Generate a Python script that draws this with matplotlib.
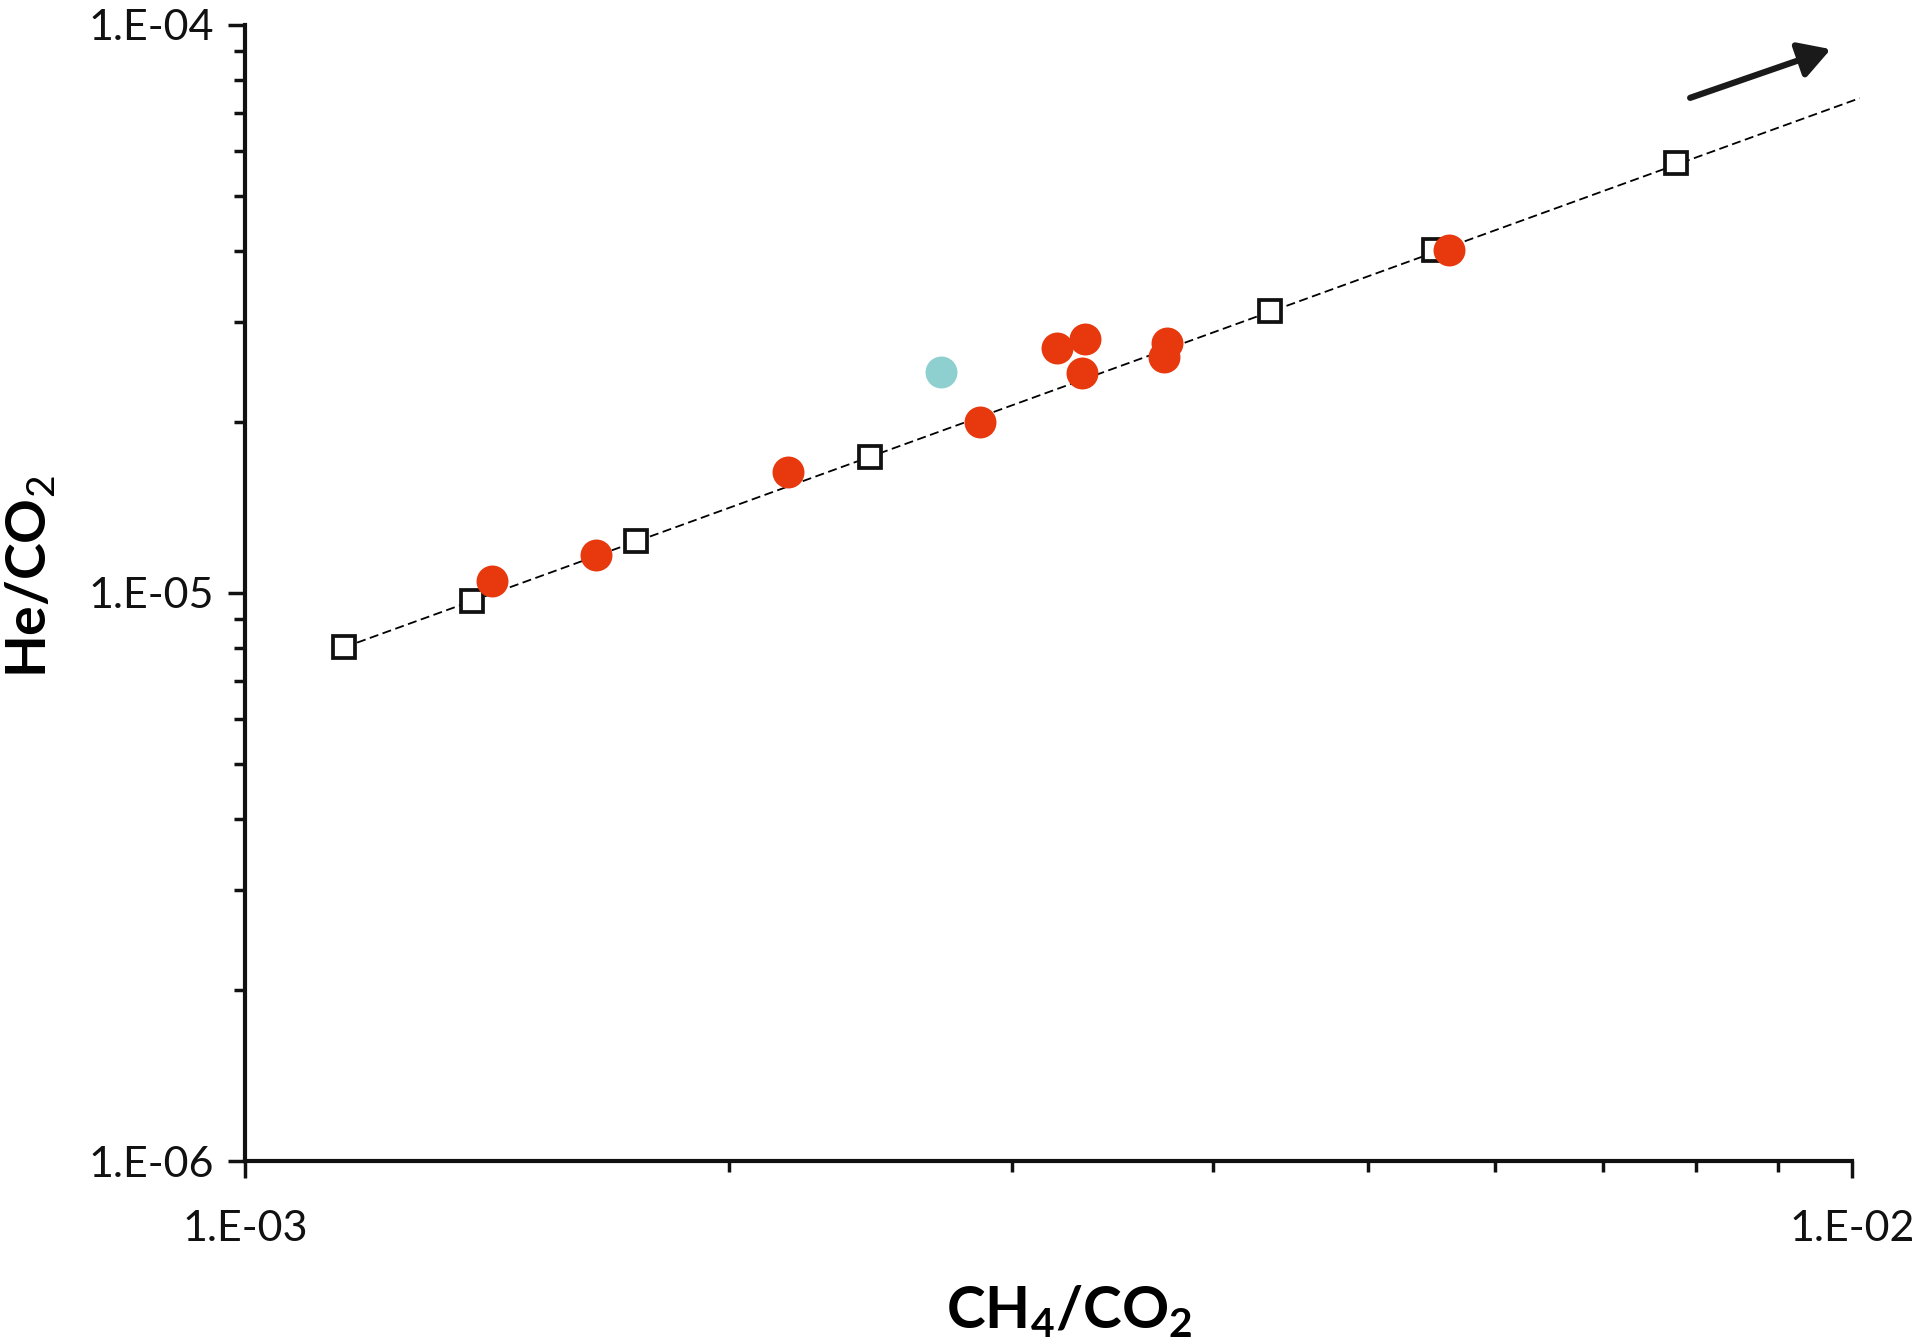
import numpy as np
import matplotlib
matplotlib.use('Agg')
import matplotlib.pyplot as plt
from matplotlib.ticker import LogLocator, FuncFormatter, NullFormatter

plt.rcParams['font.family'] = ['Lato', 'DejaVu Sans']
plt.rcParams['mathtext.fontset'] = 'custom'
plt.rcParams['mathtext.rm'] = 'Lato'
plt.rcParams['mathtext.bf'] = 'Lato:bold'

# model line (open squares) CH4/CO2 vs He/CO2
model_x = [1.153e-3, 1.384e-3, 1.751e-3, 2.448e-3, 4.345e-3, 5.49e-3, 7.77e-3]
model_y = [8.02e-6, 9.68e-6, 1.233e-5, 1.734e-5, 3.13e-5, 4.01e-5, 5.70e-5]

# extension of the trend line
line_x = [1.153e-3, 1.011e-2]
line_y = [8.02e-6, 7.42e-5]

# samples (red)
samp_x = [1.424e-3, 1.654e-3, 2.176e-3, 2.867e-3, 3.200e-3, 3.334e-3,
          3.317e-3, 3.746e-3, 3.731e-3, 5.616e-3]
samp_y = [1.050e-5, 1.165e-5, 1.634e-5, 1.995e-5, 2.693e-5, 2.796e-5,
          2.432e-5, 2.748e-5, 2.603e-5, 4.01e-5]

# other sample (cyan)
other_x = [2.710e-3]
other_y = [2.443e-5]

fig = plt.figure(figsize=(19.17, 13.41), dpi=100)
ax = fig.add_axes([0.1278, 0.1342, 0.8383, 0.8475])

ax.plot(line_x, line_y, color='black', lw=1.3, ls=(0, (5, 2.5)), zorder=1, clip_on=False)
ax.plot(model_x, model_y, ls='none', marker='s', ms=16, mfc='white', mec='#111111',
        mew=2.7, zorder=2)
ax.plot(samp_x, samp_y, ls='none', marker='o', ms=23, mfc='#e8380d', mec='none', zorder=3)
ax.plot(other_x, other_y, ls='none', marker='o', ms=23, mfc='#8ecfd0', mec='none', zorder=3)

# arrow top right
ax.annotate('', xy=(9.70e-3, 9.05e-5), xytext=(7.93e-3, 7.43e-5),
            arrowprops=dict(arrowstyle='-|>,head_length=0.38,head_width=0.22',
                            lw=4.5, color='#1a1a1a', mutation_scale=50,
                            shrinkA=0, shrinkB=0),
            annotation_clip=False)

ax.set_xscale('log')
ax.set_yscale('log')
ax.set_xlim(1e-3, 1e-2)
ax.set_ylim(1e-6, 1e-4)

fmt = FuncFormatter(lambda v, p: '1.E-%02d' % round(-np.log10(v)))
for axis in (ax.xaxis, ax.yaxis):
    axis.set_major_locator(LogLocator(base=10, numticks=10))
    axis.set_minor_locator(LogLocator(base=10, subs=np.arange(2, 10), numticks=10))
    axis.set_major_formatter(fmt)
    axis.set_minor_formatter(NullFormatter())

for s in ('top', 'right'):
    ax.spines[s].set_visible(False)
for s in ('left', 'bottom'):
    ax.spines[s].set_linewidth(3)
    ax.spines[s].set_color('#111111')

ax.tick_params(which='major', direction='out', length=12, width=2.5, color='#111111',
               labelsize=31, labelcolor='#111111')
ax.tick_params(which='minor', direction='out', length=8, width=2.5, color='#111111')
ax.tick_params(axis='x', which='major', pad=23)
ax.tick_params(axis='y', which='major', pad=10)

ax.set_xlabel(r'$\mathbf{CH_4/CO_2}$', fontsize=42, va='center', ha='center')
ax.xaxis.set_label_coords(0.513, -0.132)
ax.set_ylabel(r'$\mathbf{He/CO}_\mathrm{2}$', fontsize=40, va='center', ha='center')
ax.yaxis.set_label_coords(-0.134, 0.514)

plt.savefig('out.png', dpi=100)
